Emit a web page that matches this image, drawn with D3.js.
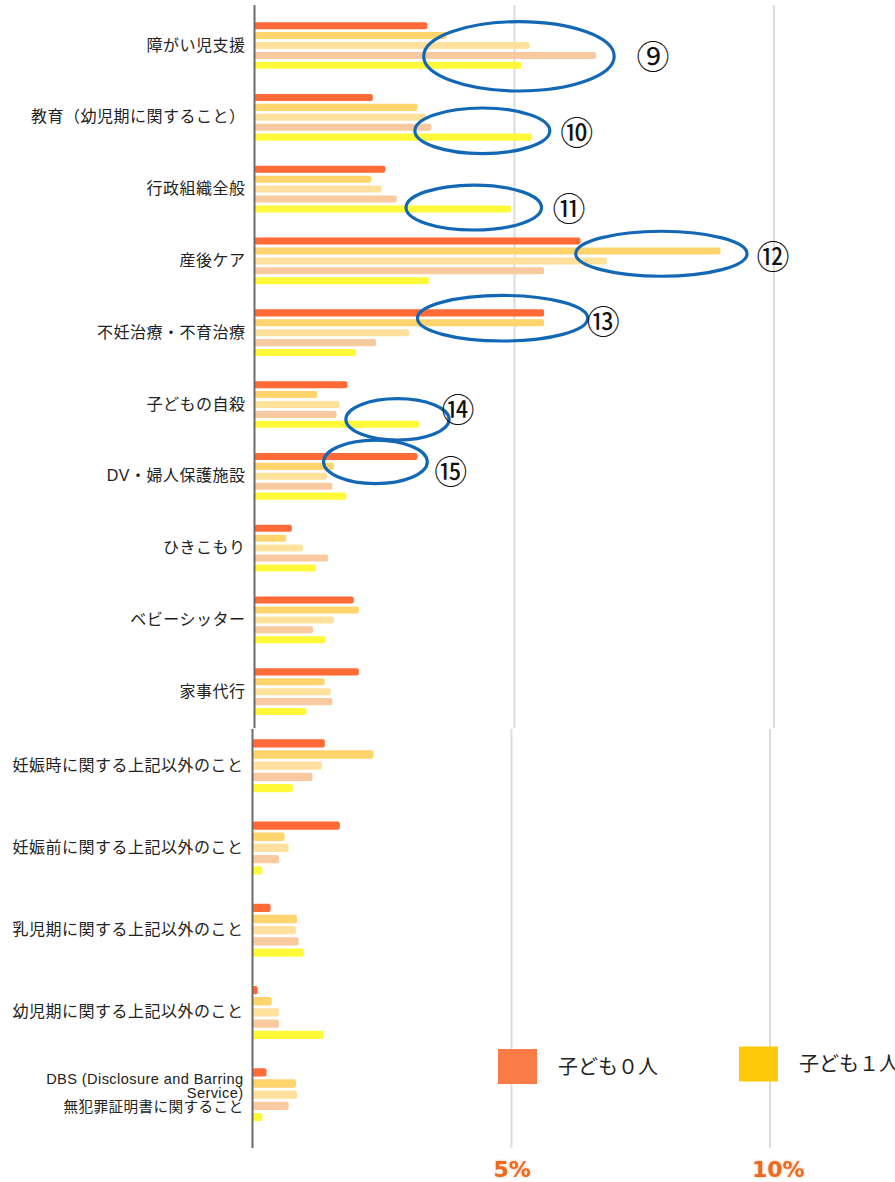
<!DOCTYPE html>
<html>
<head>
<meta charset="utf-8">
<script src="https://cdn.jsdelivr.net/npm/d3@7"></script>
<style>
  html, body { margin: 0; padding: 0; background: #fff; overflow: hidden; }
  .cat-label { font-family: "Liberation Sans", "Noto Sans CJK JP", sans-serif; font-size: 16px; letter-spacing: 0.5px; fill: #222; }
  .legend-text { font-family: "Noto Sans CJK JP", sans-serif; font-size: 20px; fill: #222; }
  .tick-label { font-family: Verdana, "DejaVu Sans", sans-serif; font-weight: bold; font-size: 22px; fill: #ec6a1f; }
  .circ-num { font-family: "Noto Sans CJK JP", sans-serif; font-size: 33px; fill: #111; }
</style>
</head>
<body>
<div id="vis"></div>
<script>
// categories, upper and lower block (the picture is two stacked screenshots)
const categoriesTop = [
  "障がい児支援", "教育（幼児期に関すること）", "行政組織全般", "産後ケア",
  "不妊治療・不育治療", "子どもの自殺", "DV・婦人保護施設", "ひきこもり",
  "ベビーシッター", "家事代行"
];
const categoriesBottom = [
  "妊娠時に関する上記以外のこと", "妊娠前に関する上記以外のこと",
  "乳児期に関する上記以外のこと", "幼児期に関する上記以外のこと",
  "DBS (Disclosure and Barring\nService)\n無犯罪証明書に関すること"
];

// series (% of answers), same order as categoriesTop + categoriesBottom
const seriesNames = ["子ども０人", "子ども１人", "子ども２人", "子ども３人", "子ども４人以上"];
const child0 = [3.33, 2.28, 2.52, 6.28, 5.58, 1.79, 3.14, 0.72, 1.91, 2.01, 1.40, 1.69, 0.35, 0.10, 0.27];
const child1 = [3.70, 3.14, 2.25, 8.98, 5.58, 1.21, 1.53, 0.61, 2.01, 1.35, 2.34, 0.62, 0.86, 0.37, 0.84];
const child2 = [5.30, 3.31, 2.45, 6.79, 2.98, 1.64, 1.40, 0.93, 1.53, 1.47, 1.34, 0.70, 0.84, 0.51, 0.86];
const child3 = [6.58, 3.41, 2.74, 5.58, 2.34, 1.58, 1.50, 1.42, 1.13, 1.50, 1.16, 0.51, 0.89, 0.51, 0.70];
const child4 = [5.14, 5.35, 4.94, 3.36, 1.96, 3.17, 1.77, 1.18, 1.37, 1.00, 0.78, 0.19, 0.99, 1.37, 0.19];
const seriesValues = [child0, child1, child2, child3, child4];

const tickValues = [5, 10];
const tickLabels = ["5%", "10%"];
const legendItems = ["子ども０人", "子ども１人"];

// hand drawn highlights: category, series index at centre, x range in %
const highlights = [
  {label: "⑨", category: "障がい児支援", from: 3.26, to: 6.93, at: 3.09, span: 3.5, labelX: 7.68, labelAt: 2.96},
  {label: "⑩", category: "教育（幼児期に関すること）", from: 3.09, to: 5.69, at: 3.36, span: 2.3, labelX: 6.21, labelAt: 3.4},
  {label: "⑪", category: "行政組織全般", from: 2.92, to: 5.53, at: 3.86, span: 2.27, labelX: 6.06, labelAt: 3.8},
  {label: "⑫", category: "産後ケア", from: 6.19, to: 9.49, at: 1.28, span: 2.27, labelX: 9.99, labelAt: 1.4},
  {label: "⑬", category: "不妊治療・不育治療", from: 3.14, to: 6.42, at: 0.54, span: 2.3, labelX: 6.72, labelAt: 0.74},
  {label: "⑭", category: "子どもの自殺", from: 1.76, to: 3.75, at: 3.5, span: 2.1, labelX: 3.92, labelAt: 2.4},
  {label: "⑮", category: "DV・婦人保護施設", from: 1.33, to: 3.33, at: 0.54, span: 2.2, labelX: 3.78, labelAt: 1.34}
];

const width = 895, height = 1182;
const barColors = ["#ff6a36", "#ffd46c", "#ffe19d", "#f9c9a0", "#fff93a"];
const legendColors = ["#f97c46", "#ffc90b"];

const svg = d3.select("#vis").append("svg")
  .attr("width", width)
  .attr("height", height);

// two panels, slightly different offsets like the screenshots
const panels = [
  {cats: categoriesTop, offset: 0, top: 5, bottom: 728,
   x: d3.scaleLinear().domain([0, 10]).range([254.5, 773.5]),
   y: d3.scaleBand().domain(categoriesTop).range([9.6, 727.6]).paddingInner(0.35).paddingOuter(0.175),
   innerPad: 0.29},
  {cats: categoriesBottom, offset: categoriesTop.length, top: 729, bottom: 1148,
   x: d3.scaleLinear().domain([0, 10]).range([252.5, 769.5]),
   y: d3.scaleBand().domain(categoriesBottom).range([724.6, 1135.85]).paddingInner(0.354).paddingOuter(0.177),
   innerPad: 0.26}
];

panels.forEach((p, pi) => {
  const g = svg.append("g").attr("class", "panel-" + pi);
  p.inner = d3.scaleBand().domain(d3.range(seriesNames.length))
    .range([0, p.y.bandwidth()]).paddingInner(p.innerPad);

  // grid lines
  g.append("g")
    .attr("transform", `translate(0,${p.top})`)
    .call(d3.axisBottom(p.x).tickValues(tickValues).tickSize(p.bottom - p.top).tickFormat(""))
    .call(a => a.select(".domain").remove())
    .selectAll("line")
    .attr("stroke", "#dcdcdc")
    .attr("stroke-width", 2);

  // bars
  const rows = p.cats.map((c, i) => ({cat: c, idx: p.offset + i}));
  const grp = g.selectAll(".cat")
    .data(rows)
    .join("g")
    .attr("class", "cat")
    .attr("transform", d => `translate(0,${p.y(d.cat)})`);

  grp.selectAll("rect")
    .data(d => seriesValues.map((vals, s) => ({s, v: vals[d.idx]})))
    .join("rect")
    .attr("x", p.x(0))
    .attr("y", d => p.inner(d.s))
    .attr("width", d => p.x(d.v) - p.x(0))
    .attr("height", p.inner.bandwidth())
    .attr("rx", 2)
    .attr("fill", d => barColors[d.s]);

  // axis line
  g.append("line")
    .attr("x1", p.x(0)).attr("x2", p.x(0))
    .attr("y1", p.top).attr("y2", p.bottom)
    .attr("stroke", "#6b6b6b")
    .attr("stroke-width", 2);

  // category labels
  g.selectAll(".cat-label")
    .data(p.cats)
    .join("text")
    .attr("class", "cat-label")
    .attr("text-anchor", "end")
    .attr("x", p.x(0) - 9)
    .attr("y", d => p.y(d) + p.y.bandwidth() / 2)
    .each(function(d) {
      const lines = d.split("\n");
      const multi = lines.length > 1;
      const lh = 13.8;
      d3.select(this).selectAll("tspan")
        .data(lines)
        .join("tspan")
        .attr("x", p.x(0) - 9)
        .attr("dy", (l, i) => i === 0 ? (-(lines.length - 1) * lh / 2 + (multi ? 3 : 5)) + "px" : lh + "px")
        .text(l => l);
      if (multi) d3.select(this).style("font-size", "14.6px").style("letter-spacing", "0.4px");
    });
});

// tick labels under the lower panel
const pb = panels[1];
svg.append("g")
  .attr("transform", `translate(0,${pb.bottom})`)
  .call(d3.axisBottom(pb.x).tickValues(tickValues).tickSize(0).tickPadding(0)
    .tickFormat((d, i) => tickLabels[i]))
  .call(a => a.select(".domain").remove())
  .selectAll("text")
  .attr("class", "tick-label")
  .attr("text-anchor", "start")
  .attr("dx", -18)
  .attr("dy", 0)
  .attr("y", 29)
  .style("filter", "drop-shadow(0 0 1.5px rgba(236,106,31,0.45))");

// highlights
const pt = panels[0];
const hl = svg.append("g").attr("class", "highlights");
const step = pt.inner.step();
const barY = (cat, at) => pt.y(cat) + at * step + pt.inner.bandwidth() / 2;

hl.selectAll("ellipse")
  .data(highlights)
  .join("ellipse")
  .attr("cx", d => (pt.x(d.from) + pt.x(d.to)) / 2)
  .attr("cy", d => barY(d.category, d.at))
  .attr("rx", d => (pt.x(d.to) - pt.x(d.from)) / 2)
  .attr("ry", d => d.span * step)
  .attr("fill", "none")
  .attr("stroke", "#1268b5")
  .attr("stroke-width", 3.2);

hl.selectAll("text")
  .data(highlights)
  .join("text")
  .attr("class", "circ-num")
  .attr("text-anchor", "middle")
  .attr("dominant-baseline", "central")
  .attr("x", d => pt.x(d.labelX))
  .attr("y", d => barY(d.category, d.labelAt))
  .text(d => d.label);

// legend (only the first two items fit in the picture)
const leg = svg.append("g")
  .attr("transform", "translate(498,1049)");
const legRow = leg.selectAll("g")
  .data(legendItems)
  .join("g")
  .attr("transform", (d, i) => `translate(${i * 241},${i * -2.5})`);
legRow.append("rect")
  .attr("width", 39)
  .attr("height", 35)
  .attr("fill", (d, i) => legendColors[i]);
legRow.append("text")
  .attr("class", "legend-text")
  .attr("x", 60)
  .attr("y", 16)
  .attr("dominant-baseline", "central")
  .text(d => d);
</script>
</body>
</html>
